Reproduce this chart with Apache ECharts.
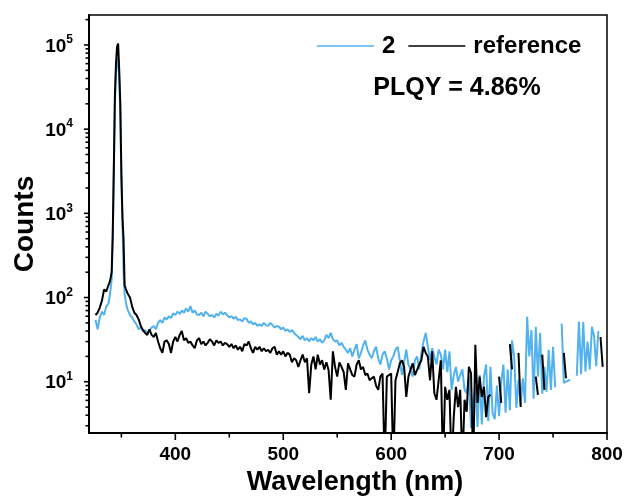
<!DOCTYPE html>
<html>
<head>
<meta charset="utf-8">
<script src="https://cdn.jsdelivr.net/npm/echarts@6/dist/echarts.min.js"></script>
<style>
html,body{margin:0;padding:0;background:#fff;}
#c{width:629px;height:499px;}
</style>
</head>
<body>
<div id="c"></div>
<script>
// Wavelength grid (nm)
const wavelengths = [
  326,328,330,332,334,336,338,
  339,340,341,342,343,344,345,346,347,348,349,350,351,352,353,354,355,356,
  358,360,362,364,366,368,370,372,374,376,
  378,380,382,384,386,388,390,392,394,396,
  398,400,402,404,406,408,410,412,414,416,
  418,420,422,424,426,428,430,432,434,436,
  438,440,442,444,446,448,450,452,454,456,
  458,460,462,464,466,468,470,472,474,476,
  478,480,482,484,486,488,490,492,494,496,
  498,500,502,504,506,508,510,512,514,516,
  518,520,522,524,526,528,530,532,534,536,
  538,540,542,544,546,548,550,552,554,556,
  558,560,562,564,566,568,570,572,574,576,
  578,580,582,584,586,588,590,592,594,596,
  598,600,602,604,606,608,610,612,614,616,
  618,620,622,624,626,628,630,632,634,636,
  638,640,642,644,646,648,650,652,654,656,
  658,660,662,664,666,668,670,672,674,676,
  678,680,682,684,686,688,690,692,694,696,
  698,700,702,704,706,708,710,712,714,716,
  718,720,722,724,726,728,730,732,734,736,
  738,740,742,744,746,748,750,752,754,756,
  758,760,762,764,766,768,770,772,774,776,
  778,780,782,784,786,788,790,792,794,796
];

// Series "2" counts
const sample2 = [
  54,42,58,68,62,78,85,
  100,125,165,500,3000,20000,45000,65000,70000,40000,15000,2500,800,200,112,90,78,71,
  62,58,52,48,42,44,40,41,38,40,
  44,46,42,50,54,50,58,55,60,57,
  65,62,68,64,70,66,74,68,79,66,
  70,63,62,66,60,68,64,60,62,58,
  64,61,68,63,66,62,58,60,56,59,
  54,55,52,57,56,50,52,48,50,46,
  48,46,50,47,46,50,47,44,46,45,
  42,44,40,42,39,41,38,36,34,32,
  35,31,33,30,33,31,34,30,32,29,
  31,36,33,38,32,30,31,27,29,26,
  24,22,25,20,24,28,19,22,27,31,
  24,21,19,23,26,19,16,21,23,19,
  14,18,20,24,26,18,12,17,24,16,
  14,11.5,18,20,14,22,30,38,26,18,
  25,20,16,24,21,14,24,13,23,8,
  12,15,10,12,14,8,7.3,11.5,2.8,6,
  9,2.9,12,3.1,11.5,16,3.4,15,4.2,3.6,
  9,3.9,10,16,4.3,14,4.6,31,20,4.9,
  10.5,5.3,11,5.6,59,20,41,6.3,45,11.5,
  38,7.2,15,7.6,24,8,26,8.6,null,null,
  49,9.7,10,10.3,10.6,null,null,11.8,52,12.3,
  51,13.2,30,14,45,35,15.3,40,null,16.7
];

// Series "reference" counts
const reference = [
  62,66,76,92,125,118,140,
  150,170,200,560,3500,25000,60000,95000,104000,50000,20000,3000,900,500,140,128,118,110,
  100,78,66,62,55,46,41,38,36,42,
  36,34,38,30,25,22,30,31,28,22,
  30,34,30,36,40,31,33,29,30,27,
  25,31,33,28,30,27,29,32,30,27,
  31,29,30,27,29,28,26,28,25,27,
  24,26,23,28,27,30,25,22,26,24,
  26,23,25,23,24,22,25,26,21,23,
  21,23,20,22,21,17,19,18,15,18,
  21,17,19,7.3,16,20,14,21,16,18,
  14,17,13.8,6.1,23,15,11.5,17,15,13,
  8,16.5,14,12,11.5,16,18,14,15,12,
  12.5,10.4,11,11.5,9,8,11.5,12.5,1,11.5,
  12,12.5,1,10.4,13,16.5,18,15,6.6,11.5,
  14,16.5,12,13.8,16,18,26,22,19.8,10.4,
  23,7.3,6.1,10.4,18,1,8.7,6.1,8,1,
  3.8,8.7,5,8,1,6.1,4.4,15,12.6,1,
  27.5,5.6,11.5,6.6,8.7,3.8,6.6,7,null,null,
  null,11.5,5.6,null,null,null,28,14,null,null,
  22,5,null,null,null,null,null,null,11.5,7,
  null,21,8,null,null,null,null,null,null,null,
  null,22,11,null,null,null,null,null,null,null,
  null,null,null,null,null,null,null,null,34,15
];

// Axis tick values
const xMajorTicks = [400, 500, 600, 700, 800];
const xMinorTicks = [350, 450, 550, 650, 750];
const yMajorTicks = [10, 100, 1000, 10000, 100000];
const yMinorTicks = [3,4,5,6,7,8,9,20,30,40,50,60,70,80,90,200,300,400,500,600,700,800,900,
  2000,3000,4000,5000,6000,7000,8000,9000,20000,30000,40000,50000,60000,70000,80000,90000,200000];

const X_MIN = 320, X_MAX = 800, Y_MIN = 2.46, Y_MAX = 2.27e5;
const FONT = '"Liberation Sans", Arial, sans-serif';

const pairs = (ys) => wavelengths.map((w, i) => [w, ys[i]]);

const plqyText = {
  type: 'text', id: 'plqy', x: 457, y: 88,
  style: {text: 'PLQY = 4.86%', fill: '#000', font: 'bold 25px "Liberation Sans", Arial, sans-serif',
          textAlign: 'center', textVerticalAlign: 'middle'}
};

const chart = echarts.init(document.getElementById('c'), null, {renderer: 'canvas'});
chart.setOption({
  animation: false,
  backgroundColor: '#fff',
  textStyle: {fontFamily: FONT, color: '#000'},
  grid: {left: 89, top: 15, right: 22, bottom: 66, containLabel: false, outerBoundsMode: 'none',
         show: true, borderColor: '#000', borderWidth: 1.5, backgroundColor: 'transparent'},
  legend: {
    data: ['2', 'reference'],
    left: 312, top: 29,
    icon: 'rect',
    itemWidth: 57, itemHeight: 1.5, itemGap: 13,
    textStyle: {fontFamily: FONT, fontSize: 24, fontWeight: 'bold', color: '#000', padding: [0, 0, 0, 3]}
  },
  graphic: [plqyText],
  xAxis: [{
    type: 'value', min: X_MIN, max: X_MAX,
    name: 'Wavelength (nm)', nameLocation: 'middle', nameGap: 36, nameMoveOverlap: false,
    nameTextStyle: {fontFamily: FONT, fontSize: 27, fontWeight: 'bold', color: '#000', padding: [0, 0, 0, 14]},
    axisLine: {onZero: false, lineStyle: {color: '#000', width: 2}},
    axisTick: {show: false},
    axisLabel: {customValues: xMajorTicks, margin: 12, fontFamily: FONT, fontSize: 19, fontWeight: 'bold', color: '#000'},
    splitLine: {show: false}
  }],
  yAxis: [{
    type: 'log', logBase: 10, min: Y_MIN, max: Y_MAX,
    name: 'Counts', nameLocation: 'middle', nameGap: 50, nameRotate: 90, nameMoveOverlap: false,
    nameTextStyle: {fontFamily: FONT, fontSize: 28, fontWeight: 'bold', color: '#000'},
    axisLine: {onZero: false, lineStyle: {color: '#000', width: 2}},
    axisTick: {show: false},
    axisLabel: {
      customValues: yMajorTicks, margin: 16,
      formatter: function (v) { return '{b|10}{s|' + Math.round(Math.log10(v)) + '}'; },
      rich: {
        b: {fontFamily: FONT, fontSize: 19, fontWeight: 'bold', color: '#000', verticalAlign: 'bottom', lineHeight: 22},
        s: {fontFamily: FONT, fontSize: 12, fontWeight: 'bold', color: '#000', verticalAlign: 'top', lineHeight: 12}
      }
    },
    splitLine: {show: false}
  }],
  series: [{
    name: '2', type: 'line', data: pairs(sample2),
    showSymbol: false, symbol: 'none', connectNulls: false, clip: true,
    lineStyle: {color: '#52b2ee', width: 2}, itemStyle: {color: '#52b2ee'}
  }, {
    name: 'reference', type: 'line', data: pairs(reference),
    showSymbol: false, symbol: 'none', connectNulls: false, clip: true,
    lineStyle: {color: '#000', width: 2}, itemStyle: {color: '#000'}
  }]
});

// Axis ticks (major and minor), positioned through the chart's own scales
function tickLine(px, py, dx, dy) {
  return {type: 'line', shape: {x1: px, y1: py, x2: px + dx, y2: py + dy},
          style: {stroke: '#000', lineWidth: 1.6}, z: 10, silent: true};
}
const ticks = [];
xMajorTicks.forEach(v => { const p = chart.convertToPixel({gridIndex: 0}, [v, Y_MIN]); ticks.push(tickLine(p[0], p[1], 0, 7)); });
xMinorTicks.forEach(v => { const p = chart.convertToPixel({gridIndex: 0}, [v, Y_MIN]); ticks.push(tickLine(p[0], p[1], 0, 4.5)); });
yMajorTicks.forEach(v => { const p = chart.convertToPixel({gridIndex: 0}, [X_MIN, v]); ticks.push(tickLine(p[0], p[1], -5, 0)); });
yMinorTicks.forEach(v => { const p = chart.convertToPixel({gridIndex: 0}, [X_MIN, v]); ticks.push(tickLine(p[0], p[1], -3.5, 0)); });
chart.setOption({graphic: [plqyText].concat(ticks)});
</script>
</body>
</html>
